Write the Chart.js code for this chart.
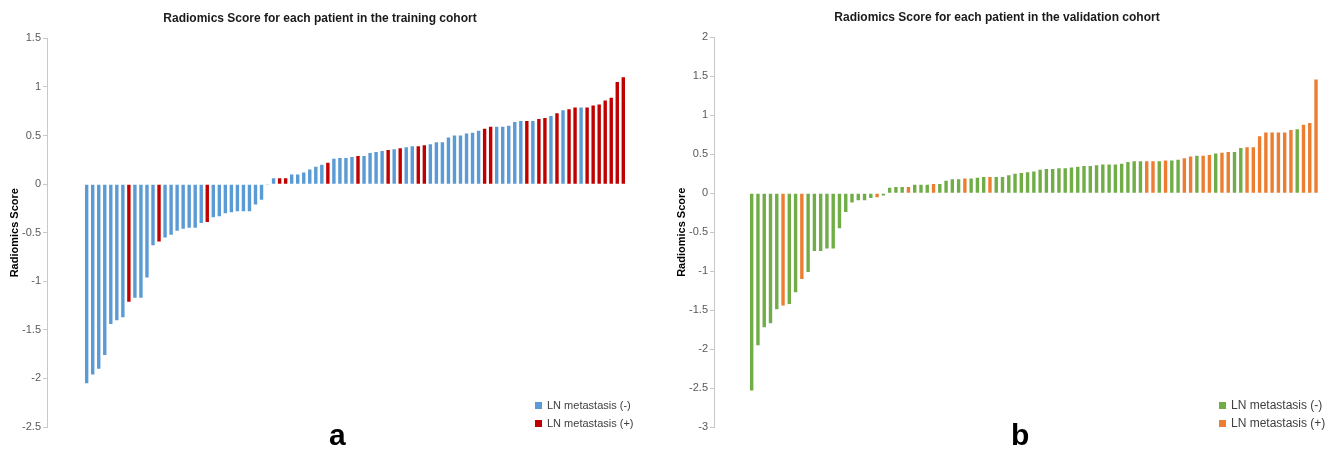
<!DOCTYPE html>
<html>
<head>
<meta charset="utf-8">
<script src="https://cdn.jsdelivr.net/npm/chart.js@4"></script>
<style>
  body { margin: 0; background: #fff; width: 1334px; height: 455px; position: relative; overflow: hidden; font-family: "Liberation Sans", Arial, sans-serif; }
  .panel { position: absolute; top: 0; width: 667px; height: 455px; }
  .legend { position: absolute; color: #404040; }
  .legend div { height: 18px; line-height: 18px; white-space: nowrap; }
  .legend .sw { display: inline-block; width: 7px; height: 7px; margin-right: 5px; vertical-align: 0px; }
  .letter { position: absolute; top: 418px; font: bold 30px "Liberation Sans", Arial, sans-serif; color: #000; }
</style>
</head>
<body>
<div class="panel" style="left:0"><canvas id="train-chart" width="667" height="455"></canvas></div>
<div class="panel" style="left:667px"><canvas id="valid-chart" width="667" height="455"></canvas></div>

<div class="legend" id="legend-a" style="left:535px; top:396px; font-size:11px;"></div>
<div class="legend" id="legend-b" style="left:1219px; top:396px; font-size:12px;"></div>
<div class="letter" style="left:329px;">a</div>
<div class="letter" style="left:1011px;">b</div>

<script>
// ------------------------------------------------------------
// Data - radiomics score per patient, sorted ascending
// status: 0 = LN metastasis (-), 1 = LN metastasis (+)
// ------------------------------------------------------------
const TRAIN_SCORES = [
  -2.05, -1.96, -1.90, -1.76, -1.44, -1.40, -1.37, -1.21, -1.17, -1.17,
  -0.96, -0.63, -0.59, -0.55, -0.52, -0.48, -0.46, -0.45, -0.45, -0.40,
  -0.39, -0.34, -0.33, -0.30, -0.29, -0.28, -0.28, -0.28, -0.21, -0.16,
  -0.01, 0.06, 0.06, 0.06, 0.10, 0.10, 0.12, 0.15, 0.18, 0.20,
  0.22, 0.26, 0.27, 0.27, 0.28, 0.29, 0.29, 0.32, 0.33, 0.34,
  0.35, 0.36, 0.37, 0.38, 0.39, 0.39, 0.40, 0.41, 0.43, 0.43,
  0.48, 0.50, 0.50, 0.52, 0.53, 0.55, 0.57, 0.59, 0.59, 0.59,
  0.60, 0.64, 0.65, 0.65, 0.65, 0.67, 0.68, 0.70, 0.73, 0.76,
  0.77, 0.79, 0.79, 0.79, 0.81, 0.82, 0.86, 0.89, 1.05, 1.10
];
const TRAIN_STATUS = [
  0, 0, 0, 0, 0, 0, 0, 1, 0, 0,
  0, 0, 1, 0, 0, 0, 0, 0, 0, 0,
  1, 0, 0, 0, 0, 0, 0, 0, 0, 0,
  0, 0, 1, 1, 0, 0, 0, 0, 0, 0,
  1, 0, 0, 0, 0, 1, 0, 0, 0, 0,
  1, 0, 1, 0, 0, 1, 1, 0, 0, 0,
  0, 0, 0, 0, 0, 0, 1, 1, 0, 0,
  0, 0, 0, 1, 0, 1, 1, 0, 1, 0,
  1, 1, 0, 1, 1, 1, 1, 1, 1, 1
];

const VALID_SCORES = [
  -2.53, -1.95, -1.72, -1.67, -1.49, -1.44, -1.42, -1.27, -1.10, -1.01,
  -0.74, -0.74, -0.71, -0.71, -0.45, -0.24, -0.12, -0.09, -0.09, -0.06,
  -0.05, -0.03, 0.07, 0.08, 0.08, 0.08, 0.11, 0.11, 0.11, 0.12,
  0.12, 0.16, 0.18, 0.18, 0.19, 0.19, 0.20, 0.21, 0.21, 0.21,
  0.21, 0.23, 0.25, 0.26, 0.27, 0.28, 0.30, 0.31, 0.31, 0.32,
  0.32, 0.33, 0.34, 0.35, 0.35, 0.36, 0.37, 0.37, 0.37, 0.38,
  0.40, 0.41, 0.41, 0.41, 0.41, 0.41, 0.42, 0.42, 0.43, 0.45,
  0.47, 0.48, 0.48, 0.49, 0.51, 0.52, 0.53, 0.53, 0.58, 0.59,
  0.59, 0.73, 0.78, 0.78, 0.78, 0.78, 0.81, 0.82, 0.88, 0.90,
  1.46
];
const VALID_STATUS = [
  0, 0, 0, 0, 0, 1, 0, 0, 1, 0,
  0, 0, 0, 0, 0, 0, 0, 0, 0, 0,
  1, 0, 0, 0, 0, 1, 0, 0, 0, 1,
  0, 0, 0, 0, 1, 0, 0, 0, 1, 0,
  0, 0, 0, 0, 0, 0, 0, 0, 0, 0,
  0, 0, 0, 0, 0, 0, 0, 0, 0, 0,
  0, 0, 0, 1, 1, 0, 1, 0, 0, 1,
  1, 0, 1, 1, 0, 1, 1, 0, 0, 1,
  1, 1, 1, 1, 1, 1, 1, 0, 1, 1,
  1
];

const LEGEND_LABELS = ['LN metastasis (-)', 'LN metastasis (+)'];
const TRAIN_TITLE = 'Radiomics Score for each patient in the training cohort';
const VALID_TITLE = 'Radiomics Score for each patient in the validation cohort';
const Y_TITLE = 'Radiomics Score';

const COLORS = {
  trainNeg: '#5B9BD5',
  trainPos: '#C00000',
  validNeg: '#70AD47',
  validPos: '#ED7D31',
  axis: '#c8c8c8',
  tick: '#595959',
  title: '#1a1a1a'
};

const FONT = '"Liberation Sans", Arial, sans-serif';

/**
 * Bar chart of scores, split into two datasets by LN status
 * (grouped:false ignores barThickness, so maxBarThickness sets the width)
 */
function renderScoreChart(id, cfg) {
  const neg = [];
  const pos = [];
  cfg.scores.forEach((v, i) => (cfg.status[i] ? pos : neg).push({ x: i + 1, y: v }));

  return new Chart(document.getElementById(id), {
    type: 'bar',
    data: {
      datasets: [
        { label: LEGEND_LABELS[0], data: neg, backgroundColor: cfg.colors[0], maxBarThickness: 3.4, grouped: false },
        { label: LEGEND_LABELS[1], data: pos, backgroundColor: cfg.colors[1], maxBarThickness: 3.4, grouped: false }
      ]
    },
    options: {
      responsive: false,
      animation: false,
      layout: { padding: { left: 0, right: cfg.padRight, top: 0, bottom: 28 } },
      plugins: {
        legend: { display: false },
        tooltip: { enabled: false },
        title: {
          display: true,
          text: cfg.title,
          color: COLORS.title,
          font: { family: FONT, size: 12, weight: 'bold' },
          padding: cfg.titlePad
        }
      },
      scales: {
        x: { type: 'linear', min: cfg.xMin, max: cfg.xMax, offset: false, display: false },
        y: {
          min: cfg.yMin,
          max: cfg.yMax,
          afterFit: s => { s.width = 47; },
          border: { color: COLORS.axis },
          grid: { drawOnChartArea: false, tickLength: 4, color: COLORS.axis },
          ticks: {
            stepSize: 0.5,
            color: COLORS.tick,
            padding: 2,
            font: { family: FONT, size: 11 },
            callback: v => String(v)
          },
          title: {
            display: true,
            text: Y_TITLE,
            color: '#000',
            font: { family: FONT, size: 11, weight: 'bold' },
            padding: { top: 8, bottom: 0 }
          }
        }
      }
    }
  });
}

function renderLegend(id, colors) {
  const box = document.getElementById(id);
  box.innerHTML = LEGEND_LABELS.map((t, i) =>
    '<div><span class="sw" style="background:' + colors[i] + '"></span>' + t + '</div>').join('');
}

renderScoreChart('train-chart', {
  scores: TRAIN_SCORES, status: TRAIN_STATUS,
  colors: [COLORS.trainNeg, COLORS.trainPos],
  title: TRAIN_TITLE, titlePad: { top: 11, bottom: 13 },
  yMin: -2.5, yMax: 1.5, xMin: -5.58, xMax: 92.77, padRight: 27
});

renderScoreChart('valid-chart', {
  scores: VALID_SCORES, status: VALID_STATUS,
  colors: [COLORS.validNeg, COLORS.validPos],
  title: VALID_TITLE, titlePad: { top: 10, bottom: 13 },
  yMin: -3, yMax: 2, xMin: -5.01, xMax: 92.75, padRight: 7
});

renderLegend('legend-a', [COLORS.trainNeg, COLORS.trainPos]);
renderLegend('legend-b', [COLORS.validNeg, COLORS.validPos]);
</script>
</body>
</html>
